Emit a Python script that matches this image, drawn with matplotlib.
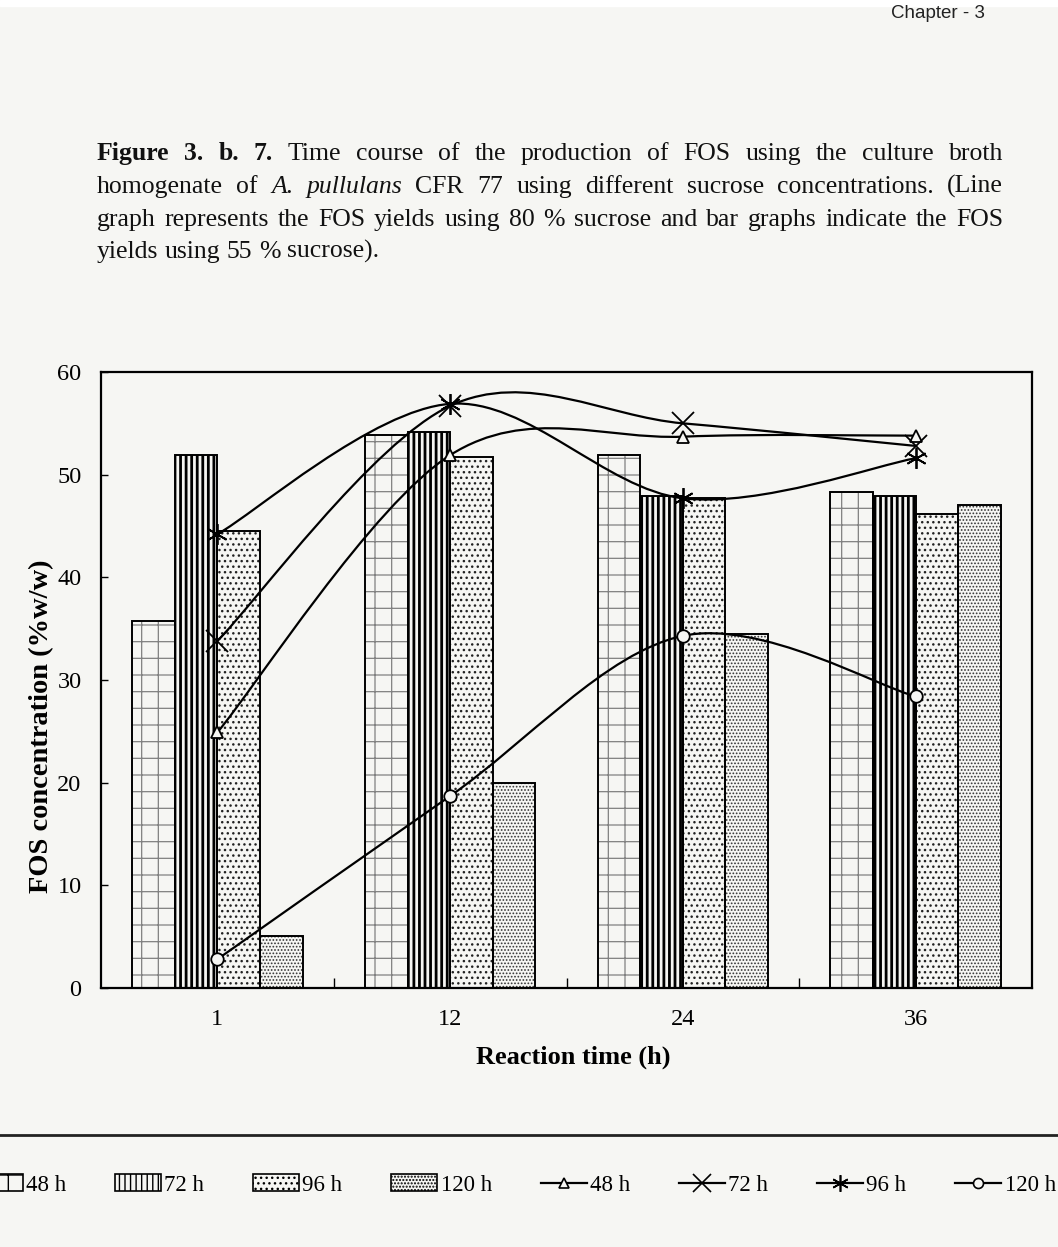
import numpy as np
import matplotlib
matplotlib.use("Agg")
import matplotlib.pyplot as plt
from matplotlib.path import Path
from matplotlib.patches import PathPatch, Patch
from matplotlib.lines import Line2D

plt.rcParams['font.family'] = 'Liberation Serif'

# ---- data ----
times = ['1', '12', '24', '36']
labels = ['48 h', '72 h', '96 h', '120 h']

bar_48 = [35.7, 53.9, 51.9, 48.3]
bar_72 = [51.9, 54.2, 47.9, 47.9]
bar_96 = [44.5, 51.7, 47.7, 46.2]
bar_120 = [5.1, 20.0, 34.5, 47.0]

line_48 = [24.9, 51.9, 53.7, 53.8]
line_72 = [33.8, 56.7, 55.0, 52.8]
line_96 = [44.2, 56.9, 47.7, 51.6]
line_120 = [2.8, 18.7, 34.3, 28.4]

PAGE = '#f6f6f3'
W, H = 1058, 1247


def fy(y):
    # pixel row -> figure fraction
    return 1 - y / H


def smooth_path(xs, ys):
    """cubic bezier through the points, like a spreadsheet 'smoothed line'"""
    n = len(xs)
    verts = [(xs[0], ys[0])]
    codes = [Path.MOVETO]
    for i in range(n - 1):
        xa, ya = (xs[i - 1], ys[i - 1]) if i > 0 else (xs[i], ys[i])
        xb, yb = (xs[i + 2], ys[i + 2]) if i + 2 < n else (xs[i + 1], ys[i + 1])
        c1 = (xs[i] + (xs[i + 1] - xa) / 6, ys[i] + (ys[i + 1] - ya) / 6)
        c2 = (xs[i + 1] - (xb - xs[i]) / 6, ys[i + 1] - (yb - ys[i]) / 6)
        verts += [c1, c2, (xs[i + 1], ys[i + 1])]
        codes += [Path.CURVE4] * 3
    return Path(verts, codes)


fig = plt.figure(figsize=(W / 100, H / 100), dpi=100, facecolor=PAGE)
ax = fig.add_axes([101 / W, fy(988), 931 / W, (988 - 372) / H])
ax.set_facecolor(PAGE)

x = np.arange(len(times))
w = 0.183
bar_sets = [bar_48, bar_72, bar_96, bar_120]
hatches = ['+', '|||', '...', '.....']
hatch_cols = ['#808080', 'black', '#222222', '#333333']
hatch_lws = [0.9, 2.0, 1.0, 0.8]

for k, vals in enumerate(bar_sets):
    xpos = x + (k - 1.5) * w
    plt.rcParams['hatch.linewidth'] = hatch_lws[k]
    hb = ax.bar(xpos, vals, w, color=PAGE, edgecolor=hatch_cols[k],
                hatch=hatches[k], linewidth=0, zorder=2)
    for p in hb:
        if hasattr(p, 'set_hatch_linewidth'):
            p.set_hatch_linewidth(hatch_lws[k])
    ax.bar(xpos, vals, w, fill=False, edgecolor='black', linewidth=1.4, zorder=2.5)

markers = ['^', 'x', (6, 2, 0), 'o']
msizes = [9, 16, 15, 9]
line_sets = [line_48, line_72, line_96, line_120]
for k, vals in enumerate(line_sets):
    ax.add_patch(PathPatch(smooth_path(list(x), vals), fill=False,
                           edgecolor='black', linewidth=1.6, zorder=3))
    ax.plot(x, vals, linestyle='none', marker=markers[k], ms=msizes[k],
            mfc=PAGE, mec='black', mew=1.3, zorder=4)

ax.set_xlim(-0.5, 3.5)
ax.set_ylim(0, 60)
ax.set_yticks(range(0, 61, 10))
ax.set_xticks(x)
ax.set_xticklabels(times)
ax.set_xticks([0.5, 1.5, 2.5], minor=True)
ax.tick_params(axis='x', which='major', length=0, pad=15, labelsize=17.5)
ax.tick_params(axis='x', which='minor', direction='in', length=7, width=1)
ax.tick_params(axis='y', direction='in', length=5, width=1, pad=14, labelsize=17.5)
for s in ax.spines.values():
    s.set_linewidth(1.6)

ax.set_xlabel('Reaction time (h)', fontsize=19, fontweight='bold')
ax.xaxis.label.set_va('center')
ax.xaxis.set_label_coords((573 - 101) / 931, -(1057 - 988) / 616)
ax.set_ylabel('FOS concentration (%w/w)', fontsize=20.5, fontweight='bold')
ax.yaxis.label.set_va('center')
ax.yaxis.set_label_coords((42 - 101) / 931, (988 - 726) / 616)

# ---- page header and caption, justified line by line ----
fig.patches.append(plt.Rectangle((0, fy(6)), 1, 6 / H, transform=fig.transFigure,
                                 color='white', zorder=0))
fig.text(985 / W, fy(13), 'Chapter - 3', family='Liberation Sans', fontsize=13.5,
         ha='right', va='center', color='#222222')

caption = [
    [('Figure 3. b. 7.', 'bold', 'normal'),
     ('Time course of the production of FOS using the culture broth', 'normal', 'normal')],
    [('homogenate of', 'normal', 'normal'), ('A. pullulans', 'normal', 'italic'),
     ('CFR 77 using different sucrose concentrations. (Line', 'normal', 'normal')],
    [('graph represents the FOS yields using 80 % sucrose and bar graphs indicate the FOS',
      'normal', 'normal')],
    [('yields using 55 % sucrose).', 'normal', 'normal')],
]
baselines = [160, 193, 226, 258]
x0, x1 = 97, 1003
cap_fs = 18.5
renderer = fig.canvas.get_renderer()
space_px = cap_fs * 0.25 * 100 / 72

for li, segs in enumerate(caption):
    words = []
    for txt, wt, st in segs:
        for wd in txt.split():
            words.append((wd, wt, st))
    arts = [fig.text(0, fy(baselines[li]), wd, fontsize=cap_fs, fontweight=wt,
                     fontstyle=st, va='baseline', ha='left', color='#111111')
            for wd, wt, st in words]
    widths = [a.get_window_extent(renderer).width for a in arts]
    if li < len(caption) - 1:
        gap = max((x1 - x0 - sum(widths)) / (len(words) - 1), 3)
    else:
        gap = space_px
    xc = x0
    for a, wd in zip(arts, widths):
        a.set_x(xc / W)
        xc += wd + gap

# ---- rule and legend under the chart ----
fig.add_artist(Line2D([0, 1], [fy(1135), fy(1135)], color='#222222', lw=2,
                      transform=fig.transFigure))

handles = []
for k in range(4):
    handles.append(Patch(facecolor=PAGE, edgecolor='black', hatch=hatches[k], lw=1.2))
for k in range(4):
    handles.append(Line2D([], [], color='black', lw=1.6, marker=markers[k],
                          ms=msizes[k] * 0.8, mfc=PAGE, mec='black', mew=1.2))
plt.rcParams['hatch.linewidth'] = 1.0
fig.legend(handles, labels + labels, ncol=8, loc='center',
           bbox_to_anchor=(-0.022, fy(1185) - 0.01, 1.02, 0.02), mode='expand',
           frameon=False, fontsize=16.5, handlelength=2.0, handletextpad=0.15,
           columnspacing=0.5, borderaxespad=0, borderpad=0)

fig.savefig('out.png', dpi=100, facecolor=PAGE)
